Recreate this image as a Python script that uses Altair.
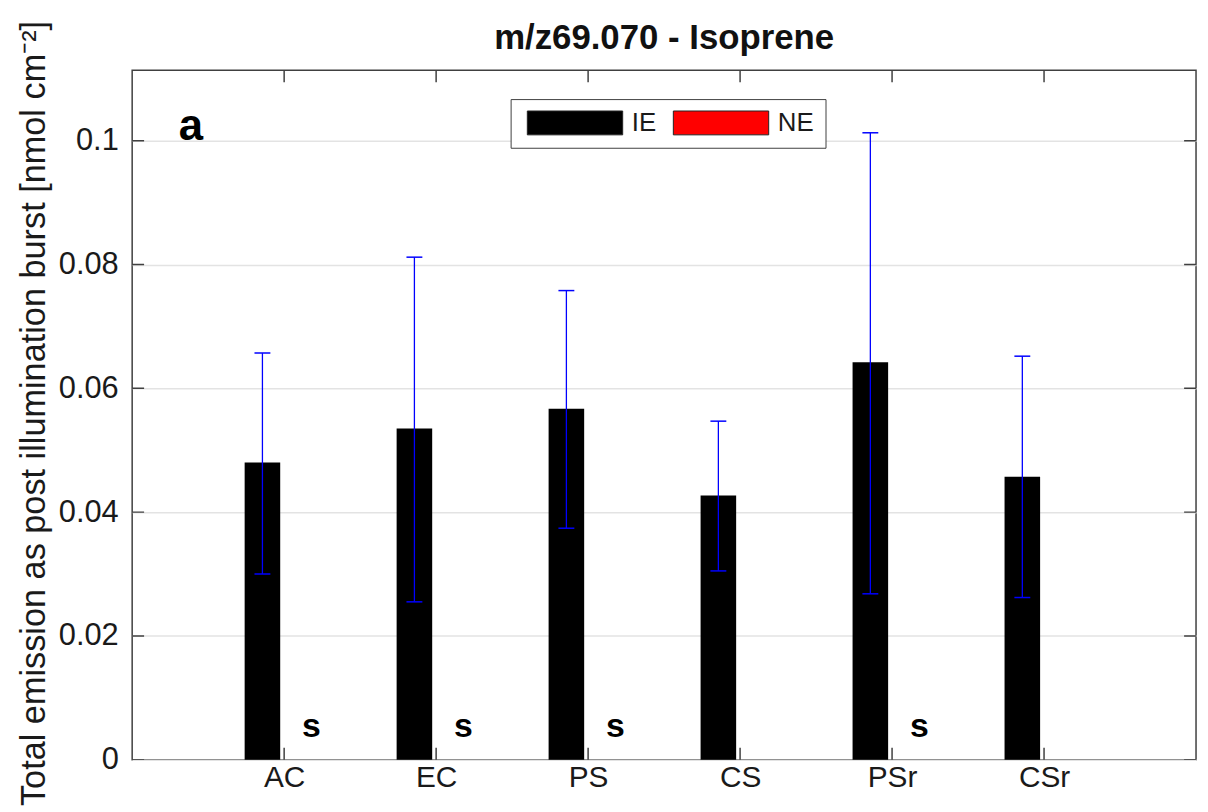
import json
import altair as alt
import pandas as pd

# ---------------- data ----------------
categories = ["AC", "EC", "PS", "CS", "PSr", "CSr"]
groups = ["IE", "NE"]
ie_values = [0.0480, 0.0535, 0.0567, 0.0427, 0.0642, 0.0457]
ie_err_low = [0.0300, 0.0255, 0.0374, 0.0305, 0.0268, 0.0262]
ie_err_high = [0.0657, 0.0812, 0.0758, 0.0547, 0.1013, 0.0652]
ne_values = [0.0, 0.0, 0.0, 0.0, 0.0, 0.0]
sig_labels = ["s", "s", "s", "", "s", ""]
y_tick_values = [0, 0.02, 0.04, 0.06, 0.08, 0.1]
title_text = "m/z69.070 - Isoprene"
y_title = "Total emission as post illumination burst [nmol cm\u207b\u00b2]"
panel_letter = "a"

# ---------------- layout constants ----------------
X_MAX = len(categories) + 1
Y_MAX = 0.1114
OFFSET = 0.1429
HALF_W = 0.117
FONT = "Liberation Sans"
FRAME = "#404040"

positions = list(range(1, len(categories) + 1))

rows = []
for i, c in enumerate(categories):
    for g, vals, sgn in (("IE", ie_values, -1), ("NE", ne_values, 1)):
        center = positions[i] + sgn * OFFSET
        rows.append(dict(cat=c, group=g, value=vals[i],
                         x0=center - HALF_W, x1=center + HALF_W))
bars = pd.DataFrame(rows)

err = pd.DataFrame(dict(cat=categories,
                        xc=[p - OFFSET for p in positions],
                        lo=ie_err_low, hi=ie_err_high))

sig = pd.DataFrame(dict(cat=categories,
                        xs=[p + 0.18 for p in positions],
                        label=sig_labels,
                        ys=[0.0037] * len(categories)))
sig = sig[sig["label"] != ""]

yticks = pd.DataFrame(dict(v=y_tick_values))
xticks = pd.DataFrame(dict(p=positions))
letter = pd.DataFrame(dict(t=[panel_letter], x=[0.386], y=[0.1002]))

xs = alt.Scale(domain=[0, X_MAX], nice=False, zero=False)
ys = alt.Scale(domain=[0, Y_MAX], nice=False)

label_expr = json.dumps(categories) + "[datum.value - 1]"

x_axis = alt.Axis(values=positions, labelExpr=label_expr, title=None,
                  grid=False, ticks=False, tickSize=0, domain=False,
                  labelFontSize=30, labelFont=FONT, labelColor="#1a1a1a",
                  labelPadding=3)
y_axis = alt.Axis(values=y_tick_values, format="~g", grid=True,
                  gridColor="#e3e3e3", gridWidth=1.5,
                  ticks=False, tickSize=0, domain=False,
                  labelFontSize=31, labelFont=FONT, labelColor="#1a1a1a",
                  labelPadding=14,
                  title=y_title, titleFont=FONT, titleFontSize=34.5,
                  titleFontWeight="normal", titleColor="#1a1a1a",
                  titleAngle=270, titleX=-98, titleY=345,
                  titleAlign="center", titleBaseline="middle")

bar = alt.Chart(bars).mark_rect().encode(
    x=alt.X("x0:Q", scale=xs, axis=x_axis),
    x2="x1:Q",
    y=alt.Y("value:Q", scale=ys, axis=y_axis),
    y2=alt.datum(0),
    color=alt.Color("group:N",
                    scale=alt.Scale(domain=groups, range=["black", "red"]),
                    legend=alt.Legend(title=None, orient="none", legendX=381, legendY=29,
                                      direction="horizontal",
                                      symbolType="M-0.6,-1L7.4,-1L7.4,1L-0.6,1Z",
                                      symbolSize=576, symbolStrokeColor="#222222",
                                      symbolStrokeWidth=1, symbolOpacity=1,
                                      labelFontSize=26, labelFont=FONT,
                                      labelColor="#1a1a1a", labelOffset=85,
                                      columnPadding=11, padding=11,
                                      strokeColor=FRAME, fillColor="white")),
)

err_rule = alt.Chart(err).mark_rule(color="blue", strokeWidth=1.3).encode(
    x=alt.X("xc:Q", scale=xs, axis=x_axis),
    y=alt.Y("lo:Q", scale=ys, axis=y_axis),
    y2="hi:Q",
)
cap_hi = alt.Chart(err).mark_tick(orient="horizontal", size=16, thickness=1.5,
                                  color="blue", opacity=1).encode(
    x=alt.X("xc:Q", scale=xs, axis=x_axis),
    y=alt.Y("hi:Q", scale=ys, axis=y_axis),
)
cap_lo = alt.Chart(err).mark_tick(orient="horizontal", size=16, thickness=1.5,
                                  color="blue", opacity=1).encode(
    x=alt.X("xc:Q", scale=xs, axis=x_axis),
    y=alt.Y("lo:Q", scale=ys, axis=y_axis),
)

sig_text = alt.Chart(sig).mark_text(font=FONT, fontSize=34, fontWeight="bold",
                                    align="center", baseline="alphabetic",
                                    color="black").encode(
    x=alt.X("xs:Q", scale=xs, axis=x_axis),
    y=alt.Y("ys:Q", scale=ys, axis=y_axis),
    text="label:N",
)

letter_text = alt.Chart(letter).mark_text(font=FONT, fontSize=44, fontWeight="bold",
                                          align="center", baseline="alphabetic",
                                          color="black").encode(
    x=alt.X("x:Q", scale=xs, axis=x_axis),
    y=alt.Y("y:Q", scale=ys, axis=y_axis),
    text="t:N",
)

# inward tick marks on all four sides (MATLAB box style)
tick_style = dict(size=24, thickness=1.5, color=FRAME, opacity=1, clip=True)
ytick_left = alt.Chart(yticks).mark_tick(orient="horizontal", **tick_style).encode(
    x=alt.datum(0, scale=xs, axis=x_axis), y=alt.Y("v:Q", scale=ys, axis=y_axis))
ytick_right = alt.Chart(yticks).mark_tick(orient="horizontal", **tick_style).encode(
    x=alt.datum(X_MAX, scale=xs, axis=x_axis), y=alt.Y("v:Q", scale=ys, axis=y_axis))
xtick_bottom = alt.Chart(xticks).mark_tick(orient="vertical", **tick_style).encode(
    x=alt.X("p:Q", scale=xs, axis=x_axis), y=alt.datum(0, scale=ys, axis=y_axis))
xtick_top = alt.Chart(xticks).mark_tick(orient="vertical", **tick_style).encode(
    x=alt.X("p:Q", scale=xs, axis=x_axis), y=alt.datum(Y_MAX, scale=ys, axis=y_axis))

chart = alt.layer(
    bar, err_rule, cap_hi, cap_lo, sig_text, letter_text,
    ytick_left, ytick_right, xtick_bottom, xtick_top,
).properties(
    width=1071, height=694,
    title=alt.TitleParams(title_text, font=FONT, fontSize=35, fontWeight="bold",
                          color="#111111", anchor="middle", offset=12,
                          frame="group", dy=48),
    autosize=alt.AutoSizeParams(type="none"),
    padding={"left": 125, "top": 60, "right": 4, "bottom": 50},
).configure(
    background="white",
).configure_view(
    stroke=FRAME, strokeWidth=1.5,
)

chart.save("out.html", embed_options={"renderer": "svg", "actions": False})
